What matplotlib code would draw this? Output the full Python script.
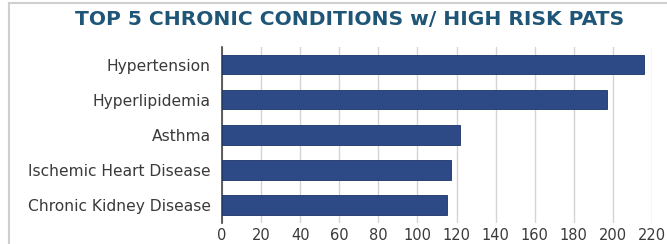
#!/usr/bin/env python3
# coding=utf-8

import matplotlib
matplotlib.use('Agg')
import matplotlib.pyplot as plt
from matplotlib.lines import Line2D

conditions = ['Hypertension', 'Hyperlipidemia', 'Asthma',
              'Ischemic Heart Disease', 'Chronic Kidney Disease']
patients = [216, 197, 122, 117, 115]
x_ticks = list(range(0, 221, 20))

title = 'TOP 5 CHRONIC CONDITIONS w/ HIGH RISK PATS'
bar_color = '#2d4a86'
text_color = '#3a3a3a'

plt.rcParams['font.family'] = ['DejaVu Sans']

fig = plt.figure(figsize=(6.67, 2.44), dpi=100)
ax = fig.add_axes([222 / 667, 1 - 222.5 / 244, 430 / 667, 175.5 / 244])

ypos = list(range(len(conditions)))
ax.barh(ypos, patients, height=0.56, color=bar_color,
        edgecolor='#1c3366', linewidth=0.6, zorder=3)
ax.set_ylim(len(conditions) - 0.5, -0.5)
ax.set_yticks(ypos)
ax.set_yticklabels(conditions, fontsize=11.2, color=text_color)
ax.set_xlim(0, 220)
ax.set_xticks(x_ticks)
ax.set_xticklabels([str(t) for t in x_ticks], fontsize=10.5, color=text_color)
ax.tick_params(axis='x', length=0, pad=4)
ax.tick_params(axis='y', length=0, pad=8)
ax.grid(axis='x', color='#d4d4d4', linewidth=1, zorder=0)

for side in ['top', 'right', 'bottom']:
    ax.spines[side].set_visible(False)
ax.spines['left'].set_color('#444444')
ax.spines['left'].set_linewidth(1.2)

fig.text(0.524, 1 - 19.5 / 244, title, ha='center', va='center',
         fontsize=14.6, fontweight='bold', color='#1f5577')

# panel frame
fig.add_artist(Line2D([9 / 667, 1], [1 - 3 / 244, 1 - 3 / 244],
                      transform=fig.transFigure, color='#cfcfcf', linewidth=1.5))
fig.add_artist(Line2D([9 / 667, 9 / 667], [0, 1 - 3 / 244],
                      transform=fig.transFigure, color='#cfcfcf', linewidth=1.5))

fig.savefig('out.png', dpi=100)
